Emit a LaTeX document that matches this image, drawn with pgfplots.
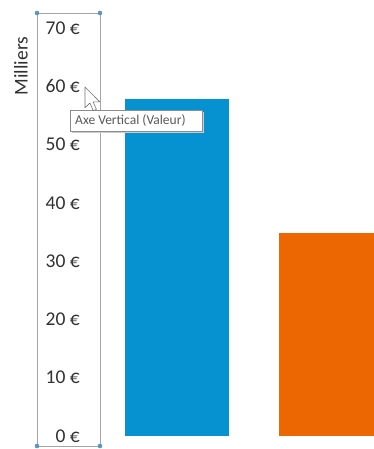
\documentclass[border=0pt]{standalone}
\usepackage{fontspec}
\setmainfont{Carlito}
\usepackage{pgfplots}
\pgfplotsset{compat=1.18}

\definecolor{barblue}{RGB}{6,146,208}
\definecolor{barorange}{RGB}{236,102,2}
\definecolor{labelgray}{RGB}{50,50,50}
\definecolor{selgray}{RGB}{165,165,165}
\definecolor{handle}{RGB}{90,150,190}

\begin{document}
\begin{tikzpicture}[x=1pt,y=1pt]
\useasboundingbox (0,0) rectangle (374,449);
\fill[white] (0,0) rectangle (374,449);

% selected vertical axis frame with its handles
\draw[selgray, line width=0.8pt] (37,3) rectangle (100,436);
\foreach \hx/\hy in {37/436,100/436,37/3,100/3}
  \fill[handle] (\hx,\hy) circle (2.3);

\begin{axis}[
  at={(100pt,13pt)}, anchor=south west,
  scale only axis,
  width=274pt, height=408pt,
  ymin=0, ymax=70,
  xmin=-0.5, xmax=1.279,
  ytick={0,10,...,70},
  xtick=\empty,
  axis line style={draw=none},
  major tick length=0pt,
  /pgf/number format/assume math mode=true,
  yticklabel={\pgfmathprintnumber{\tick}~€},
  yticklabel style={anchor=east, inner sep=0pt, xshift=-20pt,
                    font=\fontsize{19.5}{22}\selectfont, text=labelgray},
  ybar, bar width=0.675, bar shift=0pt,
  clip=true,
]
\addplot[draw=none, fill=barblue] coordinates {(0,57.8)};
\addplot[draw=none, fill=barorange] coordinates {(1,34.8)};
\end{axis}

% axis title
\node[rotate=90, text=labelgray, font=\fontsize{19.5}{22}\selectfont]
  at (21,383) {Milliers};

% tooltip
\fill[black!20] (72,316) rectangle (204,337);
\draw[black!45, fill=white, line width=0.6pt] (70,318) rectangle (202,339);
\node[anchor=west, text=black!65, font=\fontsize{13.5}{15}\selectfont, inner sep=0pt]
  at (75,328.5) {Axe Vertical (Valeur)};

% mouse pointer
\begin{scope}[shift={(85,362)}, scale=1.3]
\draw[black!55, fill=white, line width=0.6pt, line join=round]
  (0,0) -- (0,-16) -- (3.8,-12.3) -- (6.4,-18.2) -- (8.8,-17.2) -- (6.2,-11.4) -- (11.3,-11.4) -- cycle;
\end{scope}
\end{tikzpicture}
\end{document}
